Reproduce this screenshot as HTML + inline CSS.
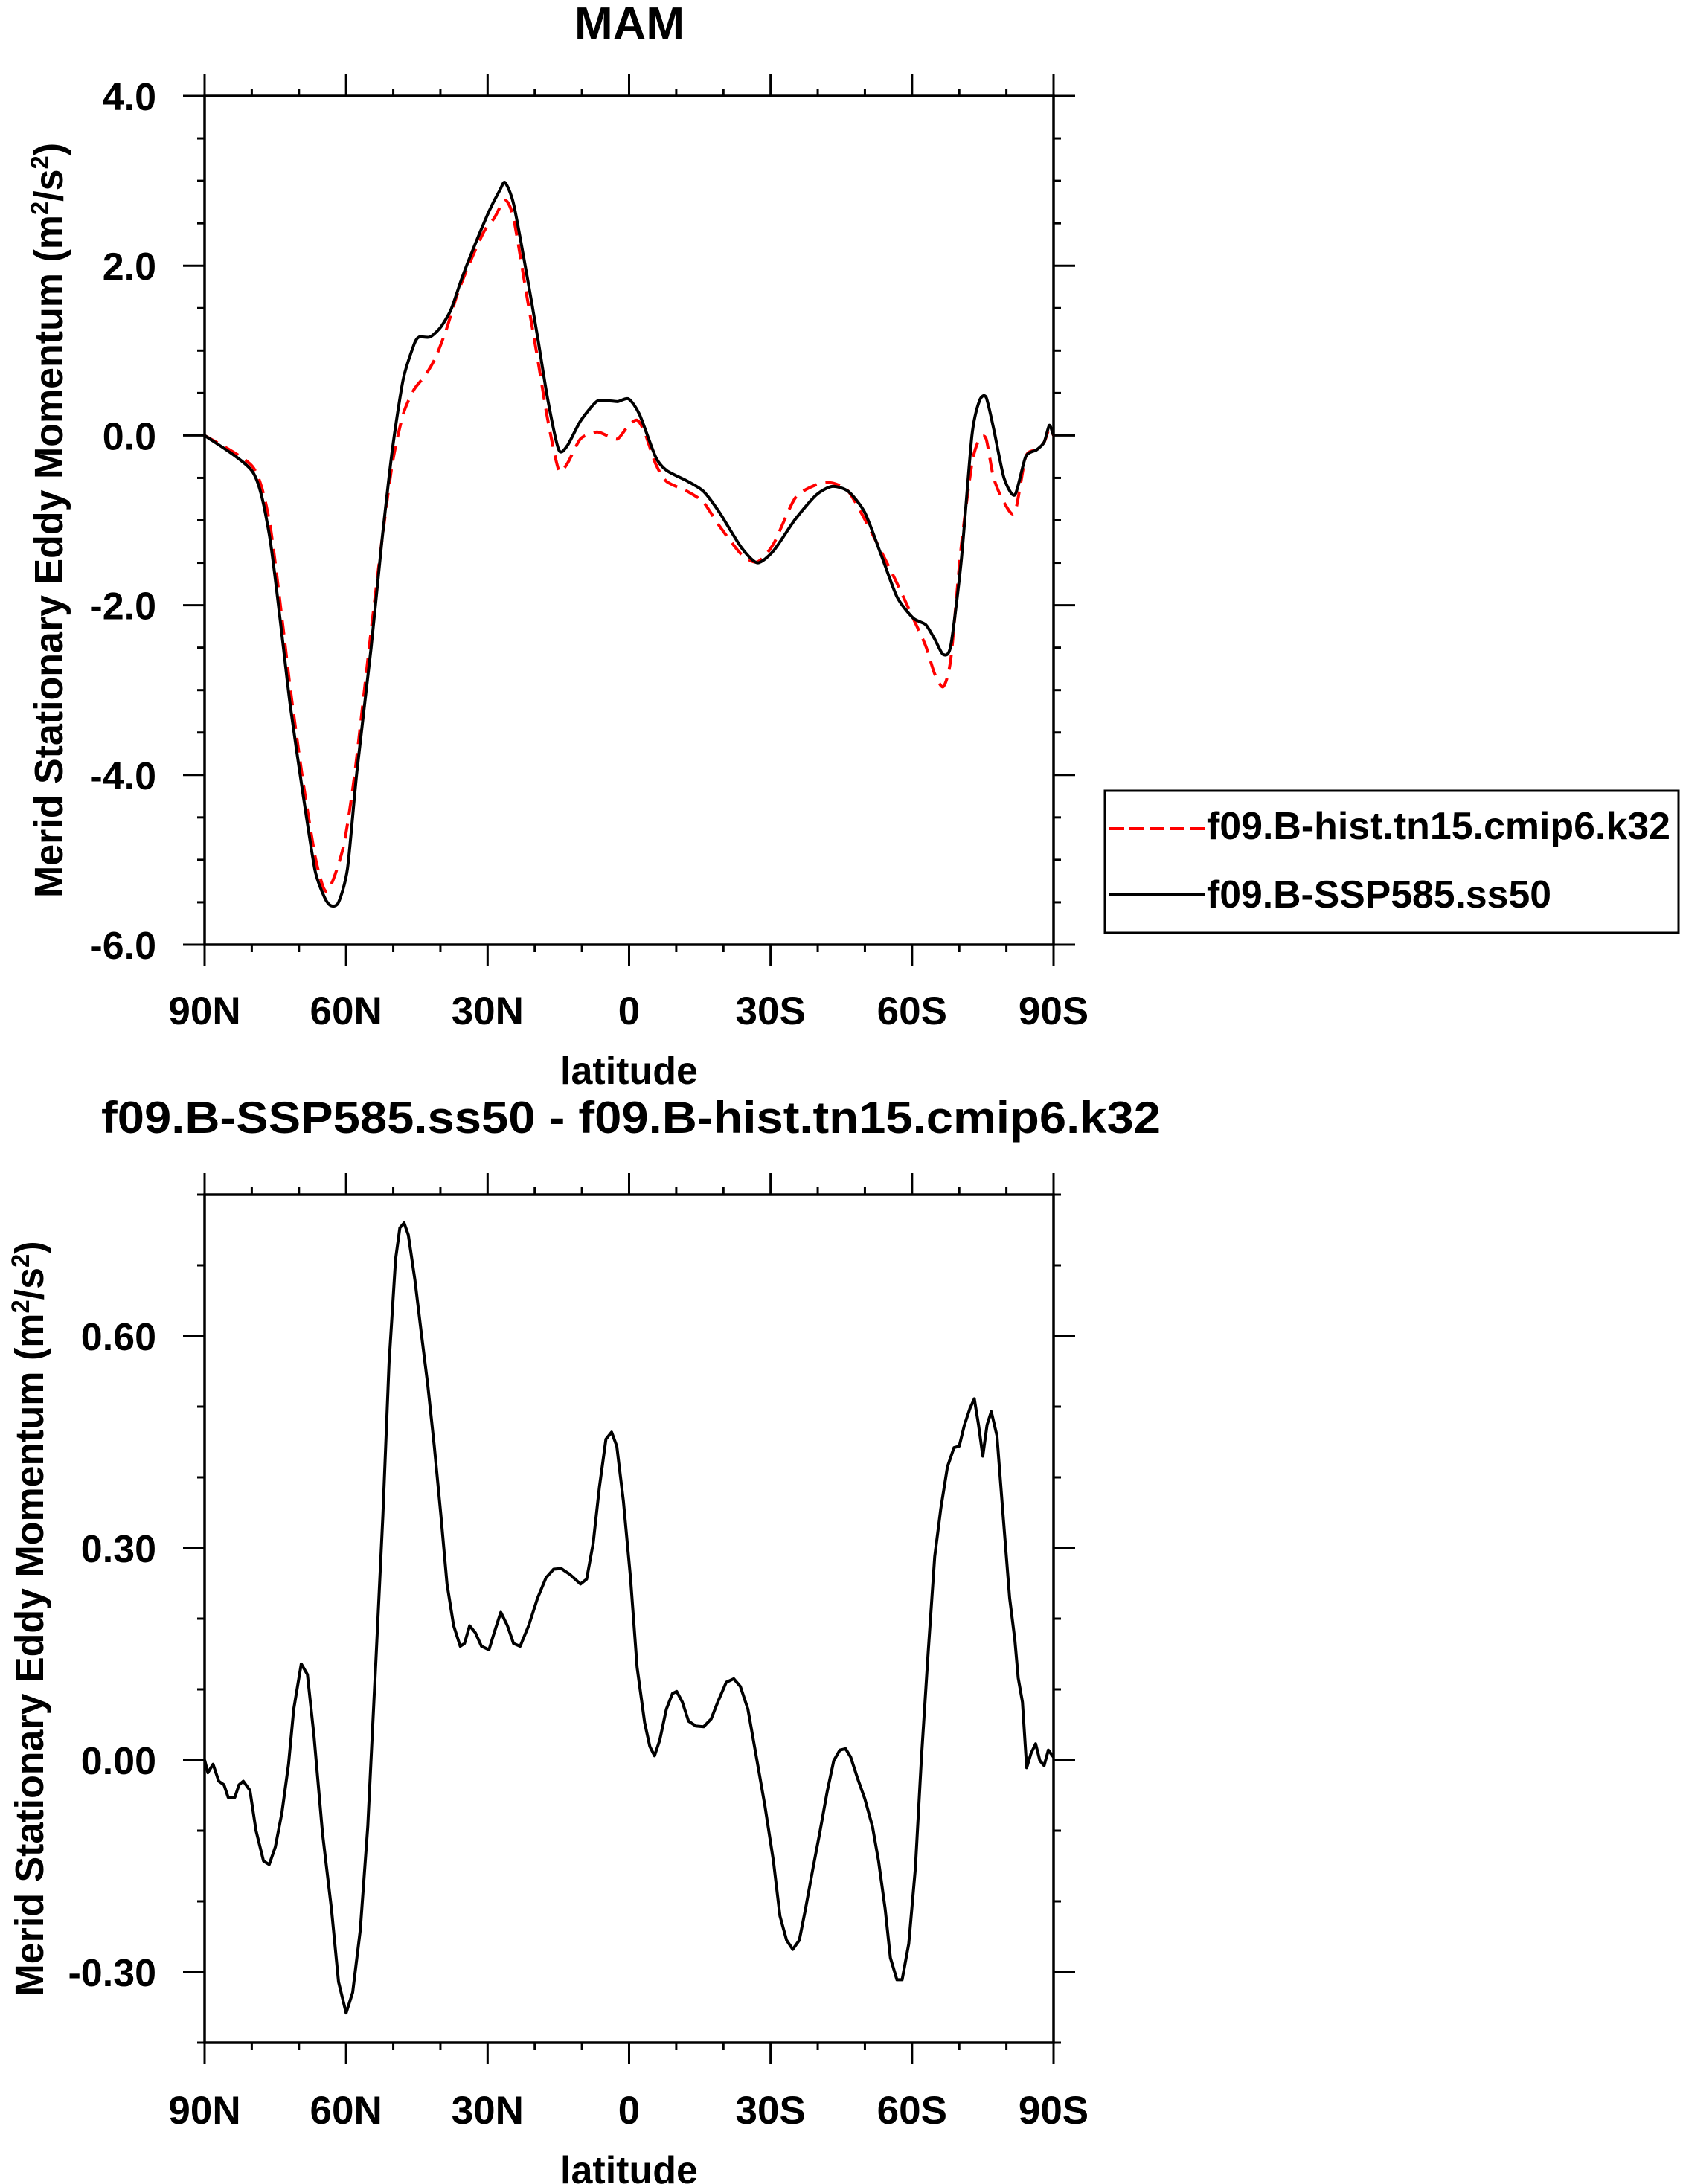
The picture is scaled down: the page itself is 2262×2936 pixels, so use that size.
<!DOCTYPE html>
<html><head><meta charset="utf-8"><title>MAM Stationary Eddy Momentum</title>
<style>
html,body{margin:0;padding:0;background:#fff;}
svg{display:block;font-family:"Liberation Sans",Arial,sans-serif;font-weight:bold;}
</style></head>
<body>
<svg id="chart" width="2262" height="2936" viewBox="0 0 2262 2936" xmlns="http://www.w3.org/2000/svg">
<rect x="0" y="0" width="2262" height="2936" fill="#fff"/>
<text x="846" y="53" font-size="62" text-anchor="middle">MAM</text>
<g id="top"></g>
<g id="bot"></g>
<text x="848" y="1523" font-size="60" text-anchor="middle" textLength="1424" lengthAdjust="spacingAndGlyphs">f09.B-SSP585.ss50 - f09.B-hist.tn15.cmip6.k32</text>
<g>
<rect x="1485" y="1063" width="771" height="191" fill="none" stroke="#000" stroke-width="3"/>
<line x1="1491" y1="1114" x2="1620" y2="1114" stroke="#f00" stroke-width="4" stroke-dasharray="20,7"/>
<text x="1622" y="1128" font-size="52" textLength="623" lengthAdjust="spacingAndGlyphs">f09.B-hist.tn15.cmip6.k32</text>
<line x1="1491" y1="1202" x2="1620" y2="1202" stroke="#000" stroke-width="4"/>
<text x="1622" y="1220" font-size="52" textLength="463" lengthAdjust="spacingAndGlyphs">f09.B-SSP585.ss50</text>
</g>
</svg>
<script>
// ---- data (latitude in degrees, + = N, - = S) ----
const sspLat = [90,79.8,76.3,73.5,71.8,69.2,66.6,64.5,63.2,61.6,59.7,57.7,54.7,52.4,50.2,47.9,45.6,44.5,42.2,39.9,37.7,35.4,33.1,29.7,27.4,26.3,24.5,21.7,19.4,17.2,14.9,13.1,10.3,6.9,4.7,2.4,0.1,-2.2,-5.6,-7.9,-12.4,-15.8,-19.2,-23.8,-27.2,-30.6,-35.2,-39.7,-43.1,-46.5,-50,-53.4,-56.8,-60.2,-62.9,-64.8,-66.6,-68.2,-70.4,-72.7,-74.3,-75.7,-77.3,-79.5,-81.8,-84.1,-86.4,-88,-89.1,-90];
const sspVal = [0,-0.43,-1.16,-2.4,-3.2,-4.2,-5.12,-5.45,-5.54,-5.5,-5.1,-3.96,-2.5,-1.24,-0.17,0.66,1.07,1.16,1.16,1.28,1.49,1.86,2.19,2.64,2.89,2.98,2.73,1.9,1.16,0.41,-0.17,-0.12,0.17,0.40,0.41,0.40,0.43,0.25,-0.25,-0.41,-0.54,-0.66,-0.91,-1.32,-1.50,-1.36,-0.99,-0.70,-0.60,-0.66,-0.91,-1.40,-1.90,-2.15,-2.23,-2.40,-2.58,-2.48,-1.49,0.0,0.41,0.45,0.08,-0.50,-0.70,-0.25,-0.17,-0.08,0.12,0];
const histLat = [90,79.8,76.3,73.5,71.8,69.2,66.6,65,64,62.5,60.4,58.2,54.7,52.4,50.2,47.9,45.6,43.3,41.1,38.8,36.5,34.2,30.8,28.6,26.3,24.5,21.7,19.4,17.2,14.9,13.1,10.3,6.9,4.7,2.4,0.1,-1.7,-3.3,-5.6,-7.9,-12.4,-15.8,-19.2,-23.8,-27.2,-30.6,-35.2,-39.7,-43.1,-46.5,-50,-53.4,-56.8,-60.2,-62.9,-64.8,-66.6,-68.2,-70.4,-72.7,-74.3,-75.7,-77.3,-79.5,-81.8,-84.1,-86.4,-88,-89.1,-90];
const histVal = [0,-0.37,-1.0,-2.2,-3.0,-4.05,-4.95,-5.3,-5.37,-5.2,-4.8,-4.0,-2.3,-1.24,-0.33,0.25,0.54,0.70,0.91,1.24,1.65,1.98,2.4,2.56,2.77,2.56,1.65,0.91,0.17,-0.41,-0.33,-0.04,0.04,0.0,-0.04,0.12,0.18,0.04,-0.33,-0.54,-0.66,-0.79,-1.07,-1.40,-1.49,-1.28,-0.74,-0.58,-0.56,-0.66,-0.99,-1.36,-1.74,-2.15,-2.48,-2.81,-2.96,-2.64,-1.32,-0.33,-0.04,-0.04,-0.50,-0.79,-0.91,-0.25,-0.17,-0.08,0.08,0];
const diffLat = [90,89.3,88.2,87.0,85.9,85.0,83.6,82.7,81.8,80.4,79.1,77.5,76.3,75.0,73.6,72.2,71.1,69.5,68.2,66.8,65.0,63.1,61.6,60.0,58.6,57.0,55.4,53.6,52.2,50.9,49.5,48.6,47.7,46.8,45.4,44.0,42.7,41.3,39.9,38.6,37.2,35.8,34.9,33.8,32.6,31.3,29.7,28.6,27.2,25.8,24.5,23.1,21.3,19.4,17.6,16.0,14.4,12.6,10.3,9.0,7.6,6.3,4.9,3.7,2.6,1.2,-0.3,-1.7,-3.3,-4.4,-5.4,-6.5,-7.9,-9.2,-10.1,-11.3,-12.6,-14.2,-15.8,-17.4,-18.8,-20.6,-22.2,-23.6,-25.2,-27.0,-28.8,-30.6,-32.0,-33.4,-34.7,-36.1,-37.4,-39.0,-40.4,-42.0,-43.4,-44.7,-45.9,-47.0,-48.4,-50.0,-51.6,-52.9,-54.3,-55.4,-56.8,-57.9,-59.3,-60.7,-62.0,-63.4,-64.8,-66.1,-67.5,-68.9,-70.0,-71.1,-72.3,-73.2,-74.1,-75.0,-75.9,-76.8,-78.0,-79.3,-80.7,-81.8,-82.5,-83.4,-84.3,-85.2,-86.2,-87.1,-88.0,-88.9,-90];
const diffVal = [0,-0.018,-0.006,-0.03,-0.035,-0.053,-0.053,-0.035,-0.03,-0.043,-0.10,-0.143,-0.148,-0.123,-0.074,-0.006,0.072,0.136,0.121,0.033,-0.104,-0.211,-0.314,-0.358,-0.329,-0.241,-0.094,0.151,0.346,0.562,0.709,0.753,0.76,0.743,0.679,0.601,0.532,0.444,0.346,0.249,0.19,0.161,0.165,0.19,0.18,0.161,0.156,0.18,0.209,0.19,0.165,0.161,0.19,0.229,0.258,0.27,0.271,0.263,0.249,0.256,0.307,0.386,0.454,0.464,0.444,0.366,0.258,0.131,0.053,0.019,0.006,0.028,0.072,0.094,0.097,0.082,0.055,0.048,0.047,0.058,0.082,0.11,0.115,0.104,0.072,0.004,-0.065,-0.143,-0.221,-0.255,-0.268,-0.255,-0.211,-0.153,-0.104,-0.045,-0.001,0.014,0.016,0.004,-0.025,-0.055,-0.094,-0.143,-0.211,-0.28,-0.311,-0.311,-0.26,-0.153,0.004,0.151,0.288,0.356,0.415,0.442,0.444,0.474,0.498,0.511,0.474,0.43,0.474,0.493,0.459,0.346,0.229,0.17,0.116,0.082,-0.011,0.009,0.023,-0.001,-0.008,0.014,0.004];
const xTickVals = [90,60,30,0,-30,-60,-90];
const xTickLabels = ["90N","60N","30N","0","30S","60S","90S"];
const topYTicks = [4,2,0,-2,-4,-6];
const topYLabels = ["4.0","2.0","0.0","-2.0","-4.0","-6.0"];
const botYTicks = [0.6,0.3,0,-0.3];
const botYLabels = ["0.60","0.30","0.00","-0.30"];

const NS = "http://www.w3.org/2000/svg";
function mk(parent, tag, attrs){const e=document.createElementNS(NS,tag);for(const k in attrs)e.setAttribute(k,attrs[k]);parent.appendChild(e);return e;}

function panel(g, cfg){
  const {x0,x1,yTop,yBot,vMax,vMin,minorStep,yTicks,yLabels,labelX,ylabX} = cfg;
  const X = lat => x0 + (90-lat)/180*(x1-x0);
  const Y = v => yTop + (vMax-v)/(vMax-vMin)*(yBot-yTop);
  for(let lat=90; lat>=-90; lat-=10){
    const major = lat%30===0; const L = major?29:10; const x=X(lat);
    const t1 = mk(g,'line',{x1:x,y1:yTop,x2:x,y2:yTop-L,stroke:'#000','stroke-width':3});
    
    
    const t2 = mk(g,'line',{x1:x,y1:yBot,x2:x,y2:yBot+L,stroke:'#000','stroke-width':3});
    
    
  }
  const nMinor = Math.round((vMax-vMin)/minorStep);
  for(let i=0;i<=nMinor;i++){
    const v = vMin + i*minorStep; const y=Y(v);
    const major = yTicks.some(t=>Math.abs(t-v)<1e-6); const L = major?29:10;
    const a = mk(g,'line',{x1:x0,y1:y,x2:x0-L,y2:y,stroke:'#000','stroke-width':3});
    
    
    const b = mk(g,'line',{x1:x1,y1:y,x2:x1+L,y2:y,stroke:'#000','stroke-width':3});
    
    
  }
  const fr = mk(g,'rect',{x:x0,y:yTop,width:x1-x0,height:yBot-yTop,fill:'none',stroke:'#000','stroke-width':3.5});
  
  
  yTicks.forEach((t,i)=>{
    const tx = mk(g,'text',{x:210,y:Y(t)+19,'font-size':52,'text-anchor':'end'});
    tx.textContent = yLabels[i];
    
    
  });
  xTickVals.forEach((t,i)=>{
    const tx = mk(g,'text',{x:X(t),y:labelX,'font-size':53,'text-anchor':'middle'});
    tx.textContent = xTickLabels[i];
    
    
  });
  const xl = mk(g,'text',{x:(x0+x1)/2,y:labelX+80,'font-size':52,'text-anchor':'middle'});
  xl.textContent='latitude';
  
  
  const cy=(yTop+yBot)/2;
  const yl = mk(g,'text',{x:ylabX,y:cy,'font-size':54,'text-anchor':'middle',transform:`rotate(-90 ${ylabX} ${cy})`,textLength:1015,lengthAdjust:'spacingAndGlyphs'});
  yl.innerHTML='Merid Stationary Eddy Momentum (m<tspan baseline-shift="super" font-size="34">2</tspan>/s<tspan baseline-shift="super" font-size="34">2</tspan>)';
  
  
  return {X,Y};
}
function smoothPath(pts){
  let d=`M${pts[0][0].toFixed(1)},${pts[0][1].toFixed(1)}`;
  const k=0.12;
  for(let i=0;i<pts.length-1;i++){
    const p0=pts[Math.max(0,i-1)],p1=pts[i],p2=pts[i+1],p3=pts[Math.min(pts.length-1,i+2)];
    const c1=[p1[0]+(p2[0]-p0[0])*k,p1[1]+(p2[1]-p0[1])*k];
    const c2=[p2[0]-(p3[0]-p1[0])*k,p2[1]-(p3[1]-p1[1])*k];
    d+=`C${c1[0].toFixed(1)},${c1[1].toFixed(1)} ${c2[0].toFixed(1)},${c2[1].toFixed(1)} ${p2[0].toFixed(1)},${p2[1].toFixed(1)}`;
  }
  return d;
}
const gt=document.getElementById('top');


const A=panel(gt,{x0:275,x1:1416,yTop:129,yBot:1270,vMax:4,vMin:-6,minorStep:0.5,yTicks:topYTicks,yLabels:topYLabels,labelX:1377,ylabX:84});
const ph=mk(gt,'path',{d:smoothPath(histLat.map((l,i)=>[A.X(l),A.Y(histVal[i])])),fill:'none',stroke:'#f00','stroke-width':4,'stroke-dasharray':'20,12'});


const ps=mk(gt,'path',{d:smoothPath(sspLat.map((l,i)=>[A.X(l),A.Y(sspVal[i])])),fill:'none',stroke:'#000','stroke-width':4});



const gb=document.getElementById('bot');


const B=panel(gb,{x0:275,x1:1416,yTop:1606,yBot:2746,vMax:0.8,vMin:-0.4,minorStep:0.1,yTicks:botYTicks,yLabels:botYLabels,labelX:2855,ylabX:58});
const pd=mk(gb,'polyline',{points:diffLat.map((l,i)=>B.X(l).toFixed(1)+','+B.Y(diffVal[i]).toFixed(1)).join(' '),fill:'none',stroke:'#000','stroke-width':4,'stroke-linejoin':'round'});


</script>
</body></html>
